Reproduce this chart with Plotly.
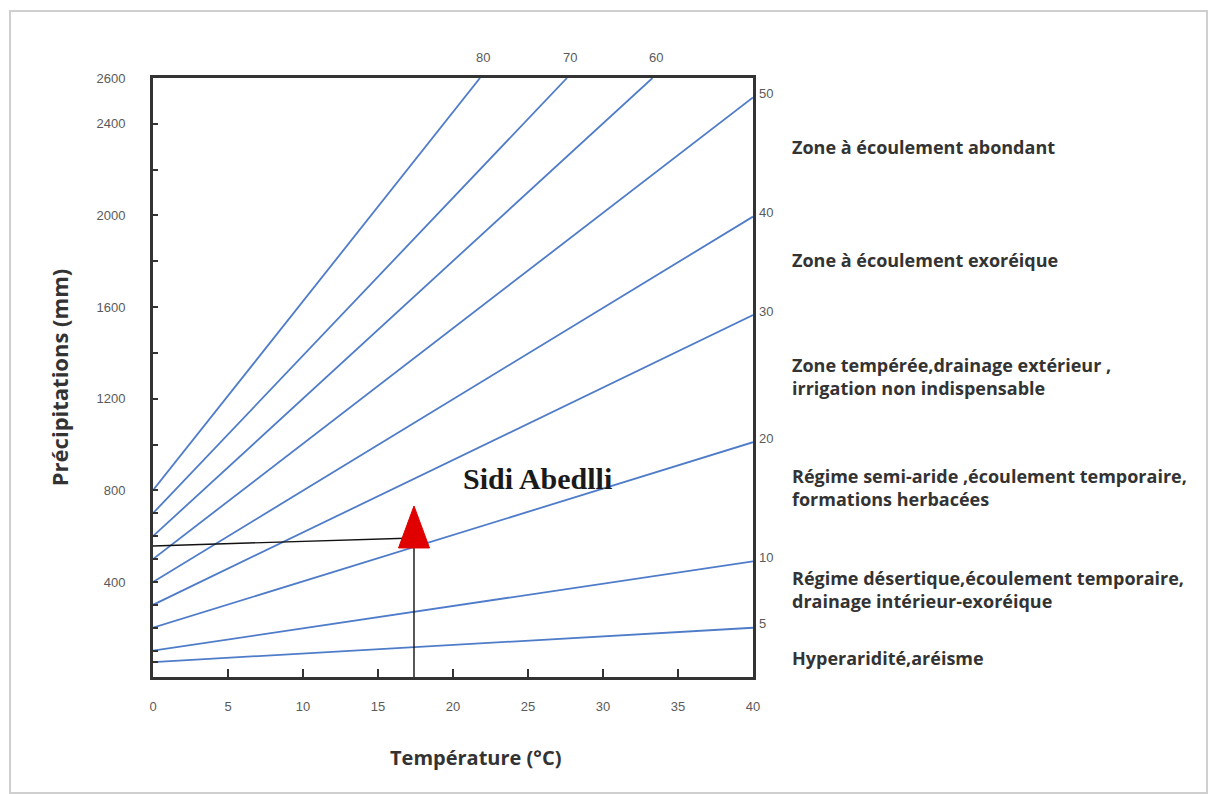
import plotly.graph_objects as go

# ---------------- data ----------------
aridity_index = [5, 10, 20, 30, 40, 50, 60, 70, 80]
p_at_t0 = [50, 100, 200, 300, 400, 500, 600, 700, 800]          # precipitation at T = 0 °C
t_end = [40, 40, 40, 40, 40, 40, 33.3, 27.6, 21.8]             # temperature where line ends
p_end = [200, 490, 1010, 1565, 1995, 2515, 2600, 2600, 2600]   # precipitation where line ends

right_labels = ["5", "10", "20", "30", "40", "50"]
top_labels = ["60", "70", "80"]

zone_texts = [
    "Zone à écoulement abondant",
    "Zone à écoulement exoréique",
    "Zone tempérée,drainage extérieur ,<br>irrigation non indispensable",
    "Régime semi-aride ,écoulement temporaire,<br>formations herbacées",
    "Régime désertique,écoulement temporaire,<br>drainage intérieur-exoréique",
    "Hyperaridité,aréisme",
]
zone_p = [2300, 1805, 1295, 812, 365, 68]

station_name = "Sidi Abedlli"
station_t = 17.4
station_p = 592
guide_p_at_t0 = 557
station_label_t = 25.6
station_label_p = 852

x_ticks = [0, 5, 10, 15, 20, 25, 30, 35, 40]
y_tick_vals = [50, 100, 200, 300, 400, 500, 600, 700, 800, 1000, 1200, 1400, 1600,
               1800, 2000, 2200, 2400, 2600]
y_labelled = [400, 800, 1200, 1600, 2000, 2400, 2600]

# ---------------- layout geometry ----------------
W, H = 1209, 794
ML, MR, MT, MB = 153, 456, 78, 117
XR = [0, 40]
YR = [-15, 2600]
pw, ph = W - ML - MR, H - MT - MB
t_per_px = (XR[1] - XR[0]) / pw
p_per_px = (YR[1] - YR[0]) / ph

blue = "#4f7cc9"
axis_col = "#333333"
txt_col = "#333333"
tick_font = dict(family="Liberation Sans Narrow, Arial Narrow, Liberation Sans, Arial", size=13, color="#5a5a5a")
bold_font = "Open Sans, Liberation Sans, Arial"

fig = go.Figure()

for idx, p0, te, pe in zip(aridity_index, p_at_t0, t_end, p_end):
    fig.add_trace(go.Scatter(x=[0, te], y=[p0, pe], mode="lines",
                             line=dict(color=blue, width=1.8),
                             hoverinfo="skip", showlegend=False))

# station guide lines
fig.add_trace(go.Scatter(x=[0, station_t], y=[guide_p_at_t0, station_p], mode="lines",
                         line=dict(color="#111111", width=1.4), showlegend=False, hoverinfo="skip"))
fig.add_trace(go.Scatter(x=[station_t, station_t], y=[station_p, YR[0]], mode="lines",
                         line=dict(color="#111111", width=1.4), showlegend=False, hoverinfo="skip"))

# station triangle (drawn as a filled polygon so it can be taller than wide)
half_w, below, above = 15.5, 10, 32
tri_x = [station_t - half_w * t_per_px, station_t + half_w * t_per_px, station_t, station_t - half_w * t_per_px]
tri_y = [station_p - below * p_per_px, station_p - below * p_per_px, station_p + above * p_per_px,
         station_p - below * p_per_px]
fig.add_trace(go.Scatter(x=tri_x, y=tri_y, mode="lines", fill="toself",
                         fillcolor="#e00000", line=dict(color="#e00000", width=1),
                         showlegend=False, hoverinfo="skip"))

annotations = []
# station name
annotations.append(dict(x=station_label_t, y=station_label_p, xref="x", yref="y",
                        text="<b>" + station_name + "</b>", showarrow=False,
                        font=dict(family="Liberation Serif, Times New Roman, serif", size=30, color="#1a1a1a")))
# right-side index labels
for lab, te, pe in zip(right_labels, t_end[:6], p_end[:6]):
    annotations.append(dict(x=te, y=pe, xref="x", yref="y", text=lab, showarrow=False,
                            xanchor="left", yanchor="middle", xshift=4, yshift=4, font=tick_font))
# top index labels
for lab, te in zip(top_labels, t_end[6:]):
    annotations.append(dict(x=te, y=1, xref="x", yref="paper", text=lab, showarrow=False,
                            xanchor="center", yanchor="bottom", yshift=11, xshift=3, font=tick_font))
# zone descriptions
for txt, zp in zip(zone_texts, zone_p):
    annotations.append(dict(x=(790 - ML) / pw, y=zp, xref="paper", yref="y", text="<b>" + txt + "</b>",
                            showarrow=False, xanchor="left", yanchor="middle", align="left",
                            font=dict(family=bold_font, size=18, color=txt_col)))
# x-axis title (slightly right of plot centre, as in the reference)
annotations.append(dict(x=(475 - ML) / pw, y=-(757 - (H - MB)) / ph, xref="paper", yref="paper",
                        text="<b>Température (°C)</b>", showarrow=False,
                        xanchor="center", yanchor="middle",
                        font=dict(family=bold_font, size=20, color=txt_col)))

fig.update_layout(
    width=W, height=H,
    margin=dict(l=ML, r=MR, t=MT, b=MB),
    paper_bgcolor="white", plot_bgcolor="white",
    annotations=annotations,
    shapes=[dict(type="rect", xref="paper", yref="paper",
                 x0=(10 - ML) / pw, x1=(1207 - ML) / pw,
                 y0=(H - MB - 793) / ph, y1=(H - MB - 11) / ph,
                 line=dict(color="#cfcfcf", width=2), layer="below")],
    xaxis=dict(range=XR, tickvals=x_ticks, ticktext=[str(v) for v in x_ticks],
               ticks="inside", ticklen=8, tickwidth=1.5, tickcolor=axis_col,
               showline=True, linecolor=axis_col, linewidth=3, mirror=True,
               showgrid=False, zeroline=False, tickfont=tick_font, ticklabelstandoff=15),
    yaxis=dict(range=YR, tickvals=y_tick_vals,
               ticktext=[str(v) if v in y_labelled else "" for v in y_tick_vals],
               ticks="inside", ticklen=5, tickwidth=1.5, tickcolor=axis_col,
               showline=True, linecolor=axis_col, linewidth=3, mirror=True,
               showgrid=False, zeroline=False, tickfont=tick_font, ticklabelstandoff=22,
               title=dict(text="<b>Précipitations (mm)</b>", standoff=22,
                          font=dict(family=bold_font, size=22, color=txt_col))),
)

fig.write_html("out.html", post_script="document.body.style.margin='0';",
               config={"displayModeBar": False})
